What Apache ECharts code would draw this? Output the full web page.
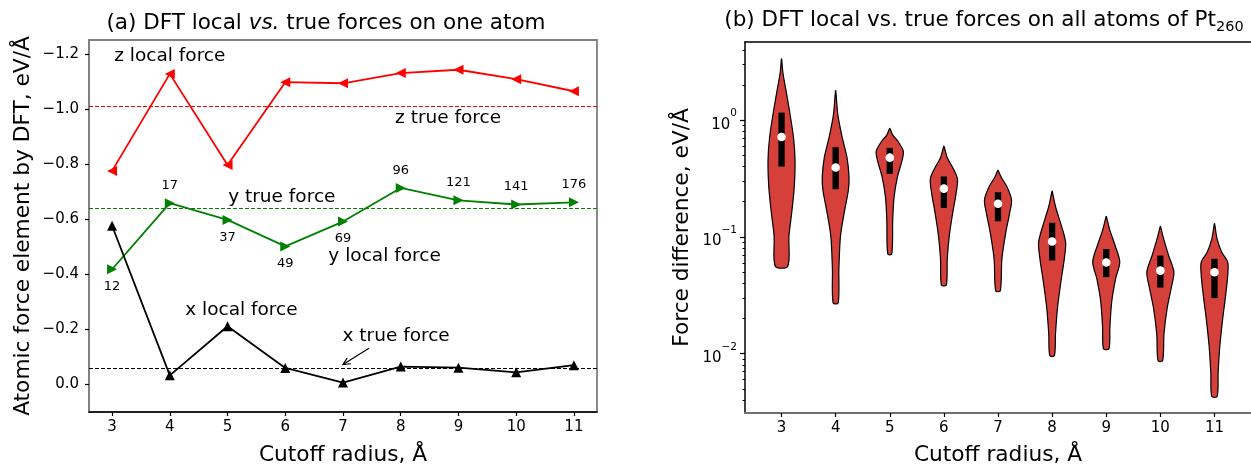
<!DOCTYPE html>
<html><head><meta charset="utf-8">
<script src="https://cdn.jsdelivr.net/npm/echarts@6/dist/echarts.min.js"></script>
<style>html,body{margin:0;padding:0;background:#fff}#c{width:1251px;height:471px}</style>
</head><body><div id="c"></div>
<script>
// ---------- Panel (a) data ----------
const cutoffs = [3, 4, 5, 6, 7, 8, 9, 10, 11];
const zLocal = [-0.775, -1.127, -0.796, -1.097, -1.093, -1.130, -1.142, -1.108, -1.064];
const yLocal = [-0.418, -0.658, -0.597, -0.501, -0.591, -0.713, -0.668, -0.653, -0.661];
const xLocal = [-0.576, -0.033, -0.211, -0.060, -0.007, -0.065, -0.061, -0.044, -0.070];
const zTrue = -1.010;
const yTrue = -0.639;
const xTrue = -0.056;
const atomCounts = [12, 17, 37, 49, 69, 96, 121, 141, 176];
const atomLabelPos = ['bottom', 'top', 'bottom', 'bottom', 'bottom', 'top', 'top', 'top', 'top'];
const leftYTicks = [-1.2, -1.0, -0.8, -0.6, -0.4, -0.2, 0.0];
const annTexts = ['z local force', 'z true force', 'y true force', 'y local force', 'x local force', 'x true force'];
const annX = [4.0, 8.82, 5.94, 7.72, 5.24, 7.92];
const annY = [-1.190, -0.967, -0.680, -0.466, -0.268, -0.175];
const arrowFrom = [7.45, -0.131];
const arrowTo = [7.0, -0.072];

// ---------- Panel (b) data: violin outlines [force difference, relative width] ----------
const violinShapes = [
  [[3.34,0.01],[2.55,0.1],[1.85,0.31],[1.18,0.6],[0.70,0.89],[0.448,1.0],[0.267,0.94],[0.160,0.75],[0.102,0.55],[0.056,0.46]],
  [[1.79,0.01],[1.10,0.17],[0.70,0.5],[0.477,0.84],[0.324,0.99],[0.251,0.94],[0.170,0.67],[0.102,0.36],[0.0535,0.24],[0.0272,0.19]],
  [[0.851,0.01],[0.748,0.21],[0.659,0.6],[0.543,1.0],[0.448,0.9],[0.324,0.56],[0.220,0.32],[0.141,0.22],[0.0714,0.15]],
  [[0.598,0.01],[0.477,0.25],[0.393,0.65],[0.314,1.0],[0.235,0.9],[0.160,0.65],[0.102,0.4],[0.0649,0.25],[0.0387,0.18]],
  [[0.373,0.01],[0.324,0.24],[0.267,0.67],[0.207,1.0],[0.160,0.86],[0.108,0.57],[0.065,0.29],[0.0345,0.17]],
  [[0.246,0.01],[0.182,0.25],[0.123,0.7],[0.0893,1.0],[0.0648,0.9],[0.0413,0.65],[0.0247,0.4],[0.0148,0.25],[0.0096,0.17]],
  [[0.150,0.01],[0.116,0.25],[0.084,0.66],[0.0608,1.0],[0.0441,0.7],[0.0281,0.41],[0.0168,0.27],[0.011,0.2]],
  [[0.123,0.01],[0.0955,0.25],[0.0692,0.61],[0.0501,1.0],[0.0363,0.8],[0.0247,0.51],[0.0148,0.27],[0.0087,0.17]],
  [[0.130,0.01],[0.0955,0.2],[0.0738,0.54],[0.0608,0.98],[0.047,0.98],[0.0319,0.83],[0.0191,0.59],[0.0114,0.39],[0.0068,0.27],[0.0043,0.2]]
];
const violinQ3 = [1.16, 0.586, 0.579, 0.329, 0.241, 0.132, 0.0787, 0.0692, 0.0649];
const violinQ1 = [0.40, 0.256, 0.346, 0.177, 0.136, 0.0628, 0.0452, 0.0368, 0.0299];
const violinMedian = [0.716, 0.393, 0.477, 0.259, 0.192, 0.0912, 0.0604, 0.0514, 0.0498];
const logMajorTicks = [0.01, 0.1, 1];
const logMinorTicks = [0.004,0.005,0.006,0.007,0.008,0.009,0.02,0.03,0.04,0.05,0.06,0.07,0.08,0.09,0.2,0.3,0.4,0.5,0.6,0.7,0.8,0.9,2,3,4];

// ---------- styles ----------
const FONT = 'DejaVu Sans';
const violinColor = '#d5403a';
const violinHalfWidth = 0.25;
const boxHalfWidth = 0.058;
const MINUS = '\u2212';

const chart = echarts.init(document.getElementById('c'), null, {renderer: 'canvas'});

function minusFmt(v) {
  const n = Number(v);
  const s = Math.abs(n).toFixed(1);
  return (n < -1e-9 ? MINUS : '') + s;
}

function renderViolin(params, api) {
  const i = api.value(0);
  const x = cutoffs[i];
  const prof = violinShapes[i];
  const right = prof.map(p => api.coord([x + p[1] * violinHalfWidth, p[0]]));
  const left = prof.slice().reverse().map(p => api.coord([x - p[1] * violinHalfWidth, p[0]]));
  const b1 = api.coord([x - boxHalfWidth, violinQ3[i]]);
  const b2 = api.coord([x + boxHalfWidth, violinQ1[i]]);
  const m = api.coord([x, violinMedian[i]]);
  return {
    type: 'group',
    children: [
      {type: 'polygon', shape: {points: right.concat(left), smooth: 0.3},
       style: {fill: violinColor, stroke: '#000', lineWidth: 1.2}},
      {type: 'rect', shape: {x: b1[0], y: b1[1], width: b2[0] - b1[0], height: b2[1] - b1[1]},
       style: {fill: '#000'}},
      {type: 'circle', shape: {cx: m[0], cy: m[1], r: 4.3}, style: {fill: '#fff'}}
    ]
  };
}

function renderAnnotation(params, api) {
  const i = api.value(0);
  const children = [];
  const p = api.coord([annX[i], annY[i]]);
  children.push({type: 'text', style: {text: annTexts[i], x: p[0], y: p[1], align: 'center', verticalAlign: 'middle',
    fill: '#000', font: '18.5px "' + FONT + '"'}});
  if (i === 0) {
    const a = api.coord(arrowFrom);
    const b = api.coord(arrowTo);
    const ang = Math.atan2(b[1] - a[1], b[0] - a[0]);
    const L = 8, w = 0.45;
    const h1 = [b[0] - L * Math.cos(ang - w), b[1] - L * Math.sin(ang - w)];
    const h2 = [b[0] - L * Math.cos(ang + w), b[1] - L * Math.sin(ang + w)];
    children.push({type: 'line', shape: {x1: a[0], y1: a[1], x2: b[0], y2: b[1]}, style: {stroke: '#000', lineWidth: 1.2}});
    children.push({type: 'polyline', shape: {points: [h1, b, h2]}, style: {stroke: '#000', lineWidth: 1.2, fill: null}});
  }
  return {type: 'group', children: children};
}

const tickLabelStyle = {color: '#000', fontFamily: FONT, fontSize: 15};
const nameStyle = {color: '#000', fontFamily: FONT, fontSize: 21.7};

const option = {
  animation: false,
  backgroundColor: '#fff',
  title: [
    {
      text: '(a) DFT local {i|vs.} true forces on one atom',
      left: 326, top: 10, textAlign: 'center', padding: 0,
      textStyle: {fontFamily: FONT, fontSize: 21.5, fontWeight: 'normal', color: '#000', lineHeight: 26,
        rich: {i: {fontFamily: FONT, fontSize: 21.5, fontStyle: 'italic', color: '#000', lineHeight: 26}}}
    },
    {
      text: '{b|(b) DFT local vs. true forces on all atoms of Pt}{s|260}',
      left: 984, top: 9, textAlign: 'center', padding: 0,
      textStyle: {fontFamily: FONT, fontSize: 21.5, fontWeight: 'normal', color: '#000',
        rich: {
          b: {fontFamily: FONT, fontSize: 21.5, color: '#000', lineHeight: 26, verticalAlign: 'top'},
          s: {fontFamily: FONT, fontSize: 14.5, color: '#000', lineHeight: 15, verticalAlign: 'bottom'}
        }}
    }
  ],
  grid: [
    {left: 89, top: 40, width: 508, height: 379, show: true, borderColor: '#808080', borderWidth: 1.8, backgroundColor: 'transparent'},
    {left: 745, top: 42, width: 512, height: 379, show: false}
  ],
  xAxis: [
    {
      type: 'value', gridIndex: 0, min: 2.6, max: 11.4,
      name: 'Cutoff radius, \u00C5', nameLocation: 'middle', nameGap: 32, nameTextStyle: nameStyle,
      axisLine: {show: true, onZero: false, lineStyle: {color: '#000', width: 1.5}},
      axisTick: {show: true, length: 4, customValues: cutoffs, lineStyle: {color: '#000', width: 1.2}},
      axisLabel: {show: true, margin: 8, customValues: cutoffs, ...tickLabelStyle},
      splitLine: {show: false}
    },
    {
      type: 'value', gridIndex: 1, min: 2.325, max: 11.675,
      name: 'Cutoff radius, \u00C5', nameLocation: 'middle', nameGap: 31, nameTextStyle: nameStyle,
      axisLine: {show: true, onZero: false, lineStyle: {color: '#707070', width: 1.8}},
      axisTick: {show: true, length: 4, customValues: cutoffs, lineStyle: {color: '#000', width: 1.2}},
      axisLabel: {show: true, margin: 8, customValues: cutoffs, ...tickLabelStyle},
      splitLine: {show: false}
    },
    {
      type: 'value', gridIndex: 1, min: 2.325, max: 11.675, position: 'top',
      axisLine: {show: true, onZero: false, lineStyle: {color: '#000', width: 1.5}},
      axisTick: {show: false}, axisLabel: {show: false}, splitLine: {show: false}
    }
  ],
  yAxis: [
    {
      type: 'value', gridIndex: 0, min: -1.25, max: 0.1, inverse: true,
      name: 'Atomic force element by DFT, eV/\u00C5', nameLocation: 'middle', nameGap: 55, nameTextStyle: nameStyle,
      axisLine: {show: true, onZero: false, lineStyle: {color: '#808080', width: 1.8}},
      axisTick: {show: true, length: 4, customValues: leftYTicks, lineStyle: {color: '#000', width: 1.2}},
      axisLabel: {show: true, margin: 10, customValues: leftYTicks, formatter: minusFmt, ...tickLabelStyle},
      splitLine: {show: false}
    },
    {
      type: 'log', logBase: 10, gridIndex: 1, min: 0.0031, max: 4.67, position: 'left',
      name: 'Force difference, eV/\u00C5', nameLocation: 'middle', nameGap: 52, nameTextStyle: nameStyle,
      axisLine: {show: true, onZero: false, lineStyle: {color: '#000', width: 1.5}},
      axisTick: {show: true, length: 5, customValues: logMajorTicks, lineStyle: {color: '#000', width: 1.2}},
      axisLabel: {
        show: true, margin: 8, customValues: logMajorTicks, color: '#000',
        formatter: v => '{b|10}{p|' + String(Math.round(Math.log10(v))).replace('-', MINUS) + '}',
        rich: {
          b: {fontFamily: FONT, fontSize: 15, color: '#000', lineHeight: 24, verticalAlign: 'bottom'},
          p: {fontFamily: FONT, fontSize: 10.5, color: '#000', lineHeight: 12, verticalAlign: 'top'}
        }
      },
      splitLine: {show: false}
    },
    {
      type: 'log', logBase: 10, gridIndex: 1, min: 0.0031, max: 4.67, position: 'left',
      axisLine: {show: false},
      axisTick: {show: true, length: 2.5, customValues: logMinorTicks, lineStyle: {color: '#000', width: 1}},
      axisLabel: {show: false}, splitLine: {show: false}
    }
  ],
  series: [
    {
      type: 'line', xAxisIndex: 0, yAxisIndex: 0, name: 'z local',
      data: cutoffs.map((c, i) => [c, zLocal[i]]),
      lineStyle: {color: '#ff0000', width: 1.8}, itemStyle: {color: '#ff0000'},
      symbol: 'triangle', symbolSize: 10, symbolRotate: 90,
      markLine: {silent: true, symbol: 'none', label: {show: false},
        lineStyle: {type: [4, 2], width: 1.1, color: '#ff0000'}, data: [{yAxis: zTrue}]}
    },
    {
      type: 'line', xAxisIndex: 0, yAxisIndex: 0, name: 'y local',
      data: cutoffs.map((c, i) => ({value: [c, yLocal[i]], label: {position: atomLabelPos[i]}})),
      lineStyle: {color: '#008000', width: 1.8}, itemStyle: {color: '#008000'},
      symbol: 'triangle', symbolSize: 10, symbolRotate: -90,
      label: {show: true, distance: 6, color: '#000', fontFamily: FONT, fontSize: 13,
        formatter: p => String(atomCounts[p.dataIndex])},
      markLine: {silent: true, symbol: 'none', label: {show: false},
        lineStyle: {type: [4, 2], width: 1.1, color: '#008000'}, data: [{yAxis: yTrue}]}
    },
    {
      type: 'line', xAxisIndex: 0, yAxisIndex: 0, name: 'x local',
      data: cutoffs.map((c, i) => [c, xLocal[i]]),
      lineStyle: {color: '#000', width: 1.8}, itemStyle: {color: '#000'},
      symbol: 'triangle', symbolSize: 10,
      markLine: {silent: true, symbol: 'none', label: {show: false},
        lineStyle: {type: [4, 2], width: 1.1, color: '#000'}, data: [{yAxis: xTrue}]}
    },
    {
      type: 'custom', xAxisIndex: 0, yAxisIndex: 0, name: 'annotations',
      data: annTexts.map((t, i) => [i]),
      encode: {x: -1, y: -1}, silent: true, z: 5,
      renderItem: renderAnnotation, clip: false
    },
    {
      type: 'custom', xAxisIndex: 1, yAxisIndex: 1, name: 'violins',
      data: cutoffs.map((c, i) => [i]),
      encode: {x: -1, y: -1},
      renderItem: renderViolin, clip: true
    }
  ]
};
chart.setOption(option);
</script>
</body></html>
